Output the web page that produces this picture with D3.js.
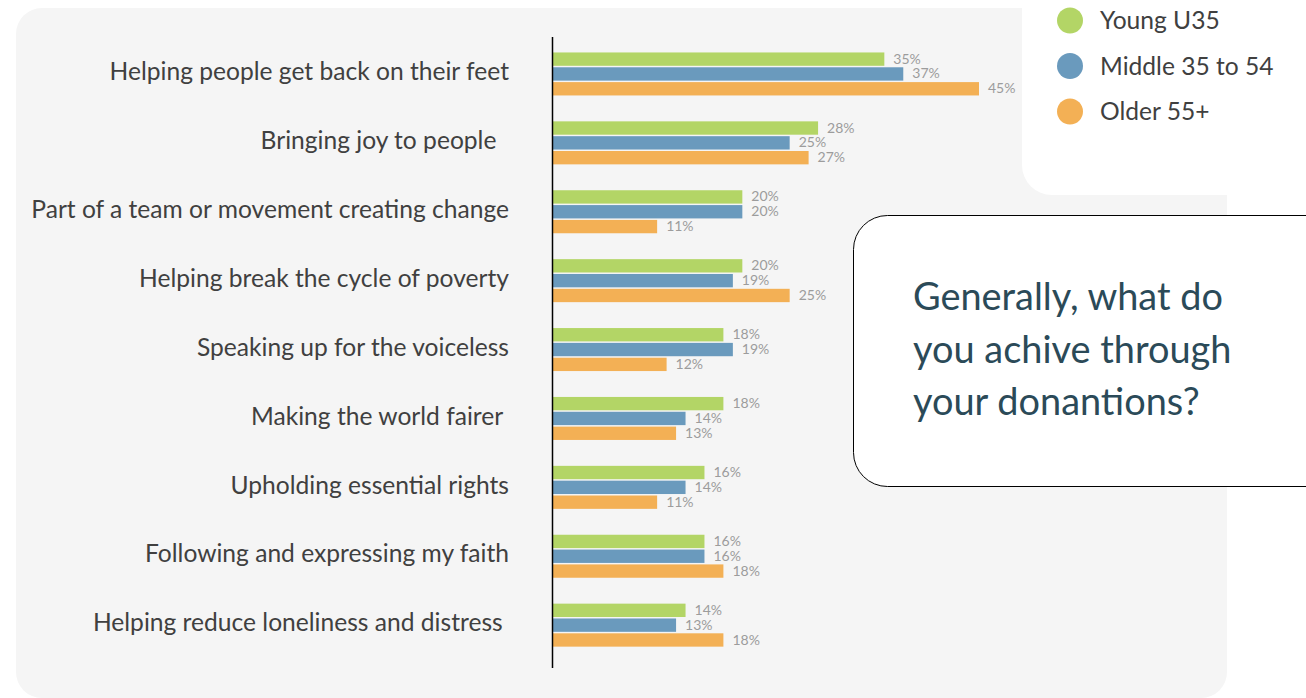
<!DOCTYPE html>
<html>
<head>
<meta charset="utf-8">
<script src="https://cdn.jsdelivr.net/npm/d3@7"></script>
<style>
  html, body { margin: 0; padding: 0; background: #ffffff; }
  svg { display: block; }
  text { font-family: Lato, "Open Sans", sans-serif; }
</style>
</head>
<body>
<svg id="chart" width="1306" height="698"></svg>
<script>
// Answer options (trailing spaces kept as laid out)
const categories = [
  "Helping people get back on their feet",
  "Bringing joy to people  ",
  "Part of a team or movement creating change",
  "Helping break the cycle of poverty",
  "Speaking up for the voiceless",
  "Making the world fairer ",
  "Upholding essential rights",
  "Following and expressing my faith",
  "Helping reduce loneliness and distress "
];

// Age groups
const seriesNames = ["Young U35", "Middle 35 to 54", "Older 55+"];
const seriesColors = ["#b3d566", "#6a9abd", "#f3b055"];

// Share of respondents (%) per answer, one array per age group
const young  = [35, 28, 20, 20, 18, 18, 16, 16, 14];
const middle = [37, 25, 20, 19, 19, 14, 14, 16, 13];
const older  = [45, 27, 11, 25, 12, 13, 11, 18, 18];
const seriesValues = [young, middle, older];

const questionLines = ["Generally, what do", "you achive through", "your donantions?"];

const svg = d3.select("#chart");

// Background panel
svg.append("rect")
  .attr("x", 16).attr("y", 8)
  .attr("width", 1211).attr("height", 690)
  .attr("rx", 26).attr("ry", 26)
  .attr("fill", "#f5f5f5");

// Scales
const x = d3.scaleLinear().domain([0, 45]).range([553, 979]);
const y = d3.scaleBand().domain(categories).range([39.5, 659.6]).padding(0);
const ySub = d3.scaleBand().domain(seriesNames).range([0, 43]).paddingInner(0.1);
const groupOffset = (y.bandwidth() - 43) / 2;

// Bars
const groups = svg.append("g").selectAll("g")
  .data(categories)
  .join("g")
  .attr("transform", d => `translate(0,${y(d) + groupOffset})`);

groups.each(function(cat, i) {
  const g = d3.select(this);
  const rows = seriesNames.map((s, j) => ({ s, j, v: seriesValues[j][i] }));
  g.selectAll("rect")
    .data(rows)
    .join("rect")
    .attr("x", x(0))
    .attr("y", d => ySub(d.s))
    .attr("width", d => x(d.v) - x(0))
    .attr("height", ySub.bandwidth())
    .attr("fill", d => seriesColors[d.j]);
  g.selectAll("text")
    .data(rows)
    .join("text")
    .attr("x", d => x(d.v) + 9)
    .attr("y", d => ySub(d.s) + ySub.bandwidth() / 2 + 1)
    .attr("dominant-baseline", "middle")
    .attr("font-size", 14)
    .attr("fill", "#9c9c9c")
    .text(d => d.v + "%");
});

// Category labels
svg.append("g").selectAll("text")
  .data(categories)
  .join("text")
  .attr("x", 509)
  .attr("y", d => y(d) + y.bandwidth() / 2)
  .attr("text-anchor", "end")
  .attr("dominant-baseline", "middle")
  .attr("font-size", 24.6)
  .attr("fill", "#404040")
  .style("white-space", "pre")
  .text(d => d);

// Vertical axis line
const yAxis = d3.axisLeft(y).tickSize(0).tickFormat("");
svg.append("g")
  .attr("transform", `translate(${x(0) - 0.5},0)`)
  .call(yAxis)
  .call(g => g.select(".domain")
    .attr("d", "M0,37V668")
    .attr("stroke", "#000")
    .attr("stroke-width", 1.5));

// Legend box
svg.append("rect")
  .attr("x", 1022).attr("y", -40)
  .attr("width", 340).attr("height", 235)
  .attr("rx", 30).attr("ry", 30)
  .attr("fill", "#ffffff");

const legend = svg.append("g").selectAll("g")
  .data(seriesNames)
  .join("g")
  .attr("transform", (d, i) => `translate(1070,${20.5 + i * 45.5})`);
legend.append("circle")
  .attr("r", 13)
  .attr("fill", (d, i) => seriesColors[i]);
legend.append("text")
  .attr("x", 30)
  .attr("y", 2.5)
  .attr("dominant-baseline", "middle")
  .attr("font-size", 24.6)
  .attr("fill", "#404040")
  .text(d => d);

// Question box
svg.append("rect")
  .attr("x", 853.5).attr("y", 215.5)
  .attr("width", 520).attr("height", 271)
  .attr("rx", 34).attr("ry", 34)
  .attr("fill", "#ffffff")
  .attr("stroke", "#000")
  .attr("stroke-width", 1);

svg.append("g").selectAll("text")
  .data(questionLines)
  .join("text")
  .attr("x", 913)
  .attr("y", (d, i) => 310 + i * 52.5)
  .attr("font-size", 37.9)
  .attr("fill", "#2b4a58")
  .text(d => d);
</script>
</body>
</html>
